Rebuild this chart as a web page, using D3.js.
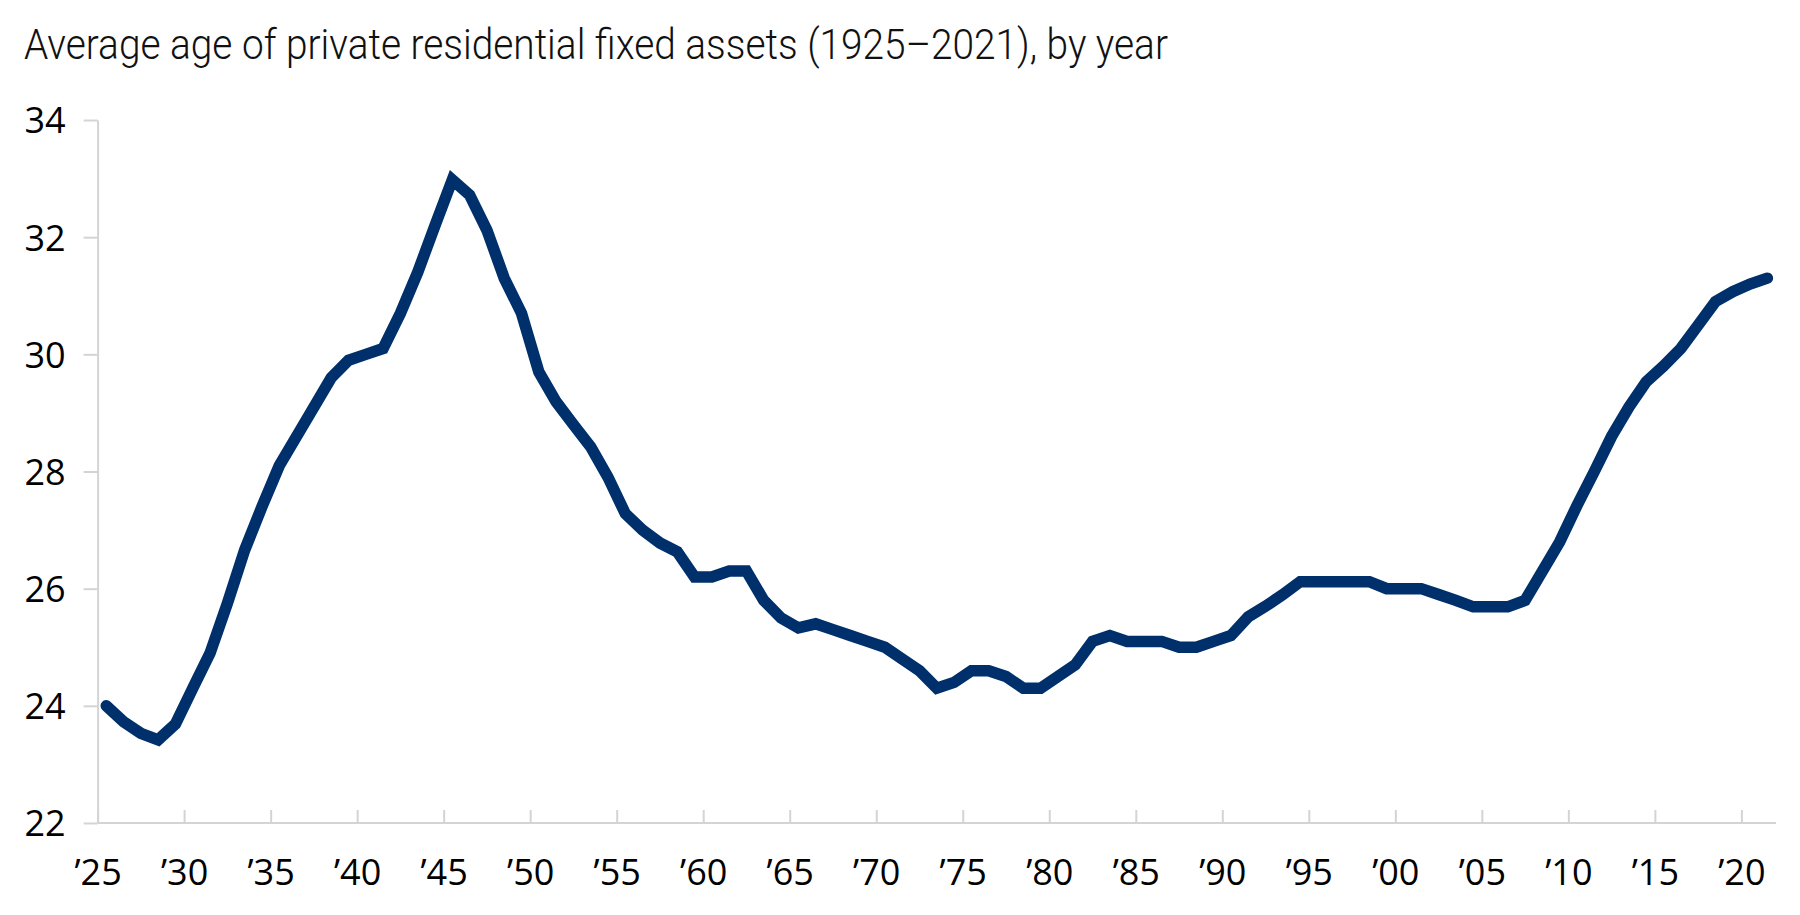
<!DOCTYPE html>
<html>
<head>
<meta charset="utf-8">
<script src="https://cdn.jsdelivr.net/npm/d3@7"></script>
<style>
  body { margin: 0; background: #fff; }
  svg { display: block; }
  .axis text { font-family: "Open Sans", "Liberation Sans", sans-serif; font-size: 36px; fill: #000; }
  .axis path, .axis line { stroke: #d4d4d4; stroke-width: 2px; }
</style>
</head>
<body>
<div id="chart"></div>
<script>
// chart data
const TITLE = "Average age of private residential fixed assets (1925\u20132021), by year";
const YEARS = d3.range(1925, 2022);
const AGES = [
  24.0, 23.73, 23.53, 23.42, 23.69, 24.3, 24.9, 25.75, 26.66, 27.4,
  28.1, 28.6, 29.1, 29.6, 29.9, 30.0, 30.1, 30.7, 31.4, 32.2,
  32.98, 32.72, 32.12, 31.3, 30.7, 29.7, 29.19, 28.8, 28.42, 27.9,
  27.28, 27.0, 26.78, 26.63, 26.2, 26.2, 26.3, 26.3, 25.8, 25.5,
  25.33, 25.4, 25.3, 25.2, 25.1, 25.0, 24.8, 24.6, 24.3, 24.4,
  24.6, 24.6, 24.5, 24.3, 24.3, 24.5, 24.7, 25.1, 25.2, 25.1,
  25.1, 25.1, 25.0, 25.0, 25.1, 25.2, 25.52, 25.7, 25.9, 26.12,
  26.12, 26.12, 26.12, 26.12, 26.0, 26.0, 26.0, 25.9, 25.8, 25.69,
  25.69, 25.69, 25.8, 26.3, 26.8, 27.42, 28.0, 28.6, 29.1, 29.53,
  29.8, 30.1, 30.5, 30.9, 31.07, 31.2, 31.3
];
const Y_TICKS = [22, 24, 26, 28, 30, 32, 34];
const X_TICKS = d3.range(1925, 2021, 5);

const W = 1800, H = 915;
const LEFT = 97.6, RIGHT = 1776, TOP = 120, BOTTOM = 823;

const svg = d3.select("#chart").append("svg")
  .attr("width", W).attr("height", H);

// title
svg.append("text")
  .attr("x", 24).attr("y", 59)
  .attr("textLength", 1144)
  .attr("lengthAdjust", "spacingAndGlyphs")
  .style("font-family", "Roboto, 'Open Sans', sans-serif")
  .style("font-weight", 300)
  .style("font-size", "42px")
  .style("fill", "#111")
  .text(TITLE);

// scales (each year sits in the middle of its slot, like a category axis)
const x = d3.scaleLinear().domain([1925, 2022]).range([LEFT, RIGHT]);
const y = d3.scaleLinear().domain([22, 34]).range([BOTTOM, TOP]);

// y axis
const yAxis = svg.append("g")
  .attr("class", "axis")
  .attr("transform", `translate(${LEFT},0)`)
  .call(d3.axisLeft(y).tickValues(Y_TICKS).tickSizeInner(14).tickSizeOuter(0).tickPadding(18));
yAxis.selectAll("text").attr("dy", "0.36em");

// x axis, ticks pointing up into the plot
const xAxis = svg.append("g")
  .attr("class", "axis")
  .attr("transform", `translate(0,${BOTTOM})`)
  .call(d3.axisBottom(x)
    .tickValues(X_TICKS)
    .tickSizeInner(-13).tickSizeOuter(0).tickPadding(36)
    .tickFormat((d) => "\u2019" + String(d).slice(2)));
xAxis.select(".domain").attr("d", `M${LEFT},0H${RIGHT}`);

// the line
const line = d3.line()
  .x((d, i) => x(YEARS[i] + 0.5))
  .y((d) => y(d));

svg.append("path")
  .datum(AGES)
  .attr("d", line)
  .style("fill", "none")
  .style("stroke", "#00306b")
  .style("stroke-width", 11.5)
  .style("stroke-linecap", "round")
  .style("stroke-linejoin", "miter");
</script>
</body>
</html>
